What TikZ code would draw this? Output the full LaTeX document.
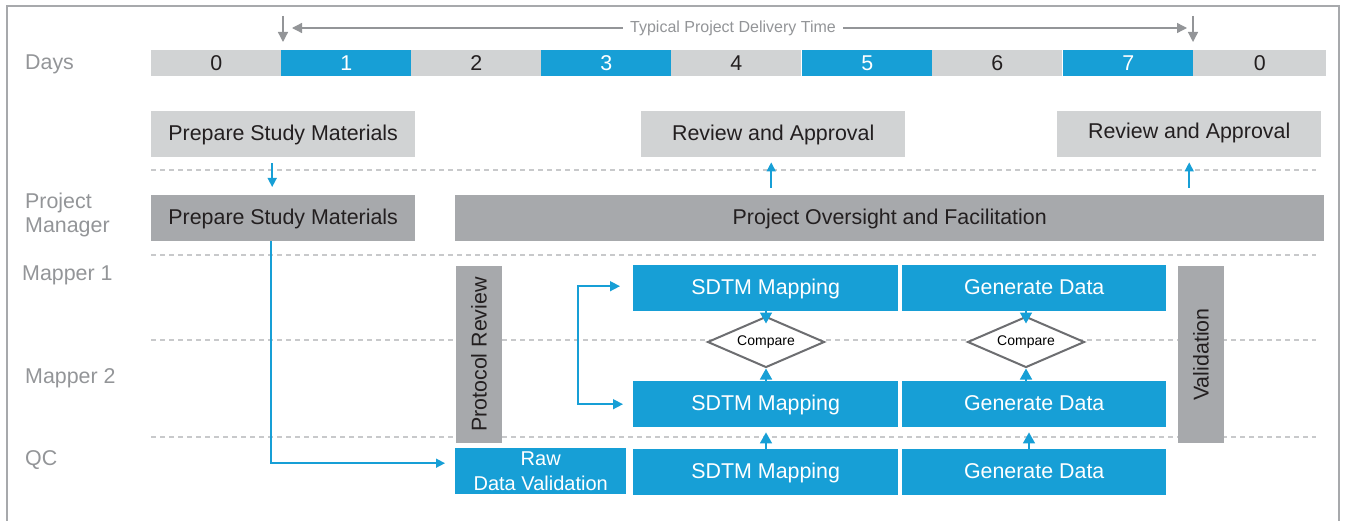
\documentclass[tikz,border=0pt]{standalone}
\usepackage{fontspec}
\setmainfont{Liberation Sans}
\usetikzlibrary{arrows.meta,shapes.geometric}
\definecolor{cblue}{HTML}{179FD6}
\definecolor{clg}{HTML}{D1D3D4}
\definecolor{cdg}{HTML}{A7A9AC}
\definecolor{ctxt}{HTML}{231F20}
\definecolor{clab}{HTML}{939598}
\definecolor{cdash}{HTML}{C8C9CB}
\definecolor{cdia}{HTML}{6D6E71}
\definecolor{cframe}{HTML}{A7A9AC}
\begin{document}
\begin{tikzpicture}[x=1pt,y=-1pt,
 font=\fontsize{21.4}{24}\selectfont,
 cell/.style={minimum width=130pt, minimum height=26pt, inner sep=0pt, anchor=north west},
 gcell/.style={cell, fill=clg, text=ctxt},
 bcell/.style={cell, fill=cblue, text=white},
 box/.style={minimum height=46pt, inner sep=0pt, anchor=north west, text height=15.4pt, text depth=2pt},
 lgbox/.style={box, fill=clg, text=ctxt},
 dgbox/.style={box, fill=cdg, text=ctxt},
 bbox/.style={box, fill=cblue, text=white},
 vbox/.style={fill=cdg, text=ctxt, minimum width=177pt, minimum height=46pt, inner sep=0pt, rotate=90},
 lab/.style={text=clab, anchor=west, inner sep=0pt, align=left},
 lane/.style={cdash, line width=2.2pt, dash pattern=on 5pt off 4pt},
 barrow/.style={cblue, line width=1.5pt, -{Triangle[width=9pt,length=9pt]}},
 carrow/.style={cblue, line width=1.5pt, -{Triangle[width=12pt,length=11pt]}},
 garrow/.style={clab, line width=1.3pt, -{Triangle[width=10pt,length=10pt]}},
 cmp/.style={diamond, shape aspect=2.3, draw=cdia, line width=2pt, fill=white, minimum width=117pt, minimum height=51pt, inner sep=0pt, font=\fontsize{14}{16}\selectfont, text=black}
]
\useasboundingbox (0,0) rectangle (1346,521);
\draw[cframe, line width=1.5pt] (7,521) -- (7,6) -- (1339,6) -- (1339,521);

% lane separators
\foreach \yy in {170,255,340,437}
  \draw[lane] (151,\yy) -- (1316,\yy);

% row labels
\node[lab] (lDays) at (25,64) {Days};
\node[lab] (lPM) at (25,215) {Project\\Manager};
\node[lab] (lM1) at (22,275) {Mapper 1};
\node[lab] (lM2) at (25,378) {Mapper 2};
\node[lab] (lQC) at (25,460) {QC};

% day cells
\node[gcell] (d0) at (151,50) {0};
\node[bcell] (d1) at (281,50) {1};
\node[gcell] (d2) at (411,50) {2};
\node[bcell] (d3) at (541,50) {3};
\node[gcell] (d4) at (671,50) {4};
\node[bcell] (d5) at (802,50) {5};
\node[gcell] (d6) at (932,50) {6};
\node[bcell] (d7) at (1063,50) {7};
\node[gcell, minimum width=133pt] (d8) at (1193,50) {0};

% delivery time arrows
\coordinate (tlL) at (283,28);
\coordinate (tlR) at (1193,28);
\draw[garrow] ([xshift=2pt,yshift=34pt]d1.north west) -- ([xshift=2pt,yshift=8pt]d1.north west);
\draw[garrow] ([yshift=34pt]d8.north west) -- ([yshift=8pt]d8.north west);
\draw[clab, line width=1.3pt, {Triangle[width=10pt,length=10pt]}-{Triangle[width=10pt,length=10pt]}, shorten <=9pt, shorten >=6pt] (tlL) -- (tlR);
\node[fill=white, inner xsep=7pt, inner ysep=2pt, text=clab, font=\fontsize{16}{18}\selectfont] (tpdt) at (733,28) {Typical Project Delivery Time};

% top row
\node[lgbox, minimum width=264pt] (psm1) at (151,111) {Prepare Study Materials};
\node[lgbox, minimum width=264pt] (rev1) at (641,111) {Review and Approval};
\node[lgbox, minimum width=264pt] (rev2) at (1057,111) {\raisebox{2pt}{Review and Approval}};

% project manager row
\node[dgbox, minimum width=264pt] (psm2) at (151,195) {Prepare Study Materials};
\node[dgbox, minimum width=869pt] (po) at (455,195) {Project Oversight and Facilitation};

% vertical boxes
\node[vbox] (prot) at (479,354.5) {Protocol Review};
\node[vbox] (valid) at (1201,354.5) {Validation};

% mapping boxes
\node[bbox, minimum width=265pt] (sd1) at (633,265) {SDTM Mapping};
\node[bbox, minimum width=265pt] (sd2) at (633,381) {SDTM Mapping};
\node[bbox, minimum width=265pt] (sd3) at (633,449) {SDTM Mapping};
\node[bbox, minimum width=264pt] (gd1) at (902,265) {Generate Data};
\node[bbox, minimum width=264pt] (gd2) at (902,381) {Generate Data};
\node[bbox, minimum width=264pt] (gd3) at (902,449) {Generate Data};
\node[fill=cblue, text=white, inner sep=0pt, anchor=north west, minimum height=46pt, minimum width=171pt, align=center, font=\fontsize{20}{25}\selectfont] (rdv) at (455,448) {Raw\\Data Validation};

% compare diamonds
\node[cmp] (cmp1) at (766,342) {Compare};
\node[cmp] (cmp2) at (1026,342) {Compare};

% connectors
\draw[barrow, shorten <=6pt, shorten >=8pt] ([xshift=-11pt]psm1.south) -- ([xshift=-11pt]psm2.north);
\draw[barrow, shorten <=7pt, shorten >=5pt] ([xshift=-2pt]rev1.south |- po.north) -- ([xshift=-2pt]rev1.south);
\draw[barrow, shorten <=7pt, shorten >=5pt] (rev2.south |- po.north) -- (rev2.south);
\draw[barrow, shorten >=10pt] ([xshift=-12pt]psm2.south) |- ([yshift=8pt]rdv.west);
\draw[cblue, line width=1.5pt, {Triangle[width=10pt,length=10pt]}-{Triangle[width=10pt,length=10pt]}, shorten <=13pt, shorten >=10pt] ([yshift=2pt]sd1.west) -- ++(-55,0) |- (sd2.west);
\draw[carrow] (cmp1.north |- sd1.south) -- ([yshift=-8pt]cmp1.north);
\draw[carrow] (cmp1.south |- sd2.north) -- (cmp1.south);
\draw[carrow] (cmp2.north |- gd1.south) -- ([yshift=-8pt]cmp2.north);
\draw[carrow] (cmp2.south |- gd2.north) -- (cmp2.south);
\draw[carrow, shorten >=5pt] (cmp1.south |- sd3.north) -- (cmp1.south |- sd2.south);
\draw[carrow, shorten >=5pt] ([xshift=3pt]cmp2.south |- gd3.north) -- ([xshift=3pt]cmp2.south |- gd2.south);
\end{tikzpicture}
\end{document}
